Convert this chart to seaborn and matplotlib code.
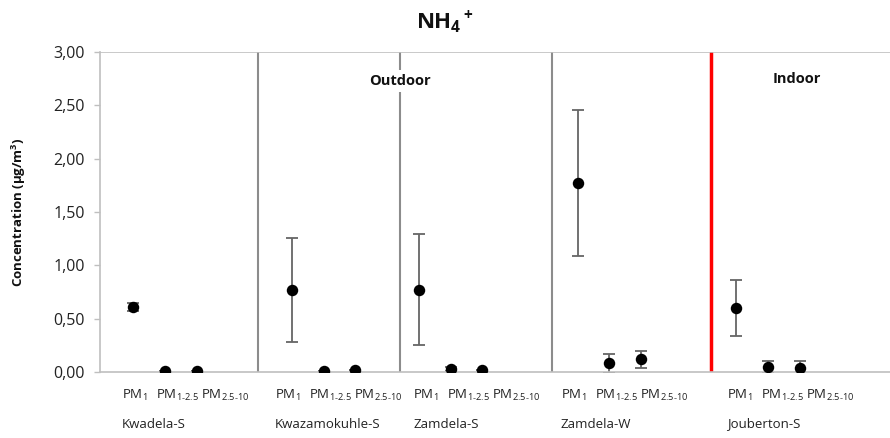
import matplotlib
matplotlib.use("Agg")
import matplotlib.pyplot as plt
import matplotlib.transforms as mtransforms
import numpy as np
import pandas as pd
import seaborn as sns

# Sites and size fractions
sites = ["Kwadela-S", "Kwazamokuhle-S", "Zamdela-S", "Zamdela-W", "Jouberton-S"]
fraction_labels = ["PM$_{1}$", "PM$_{1\u20102.5}$", "PM$_{2.5\u201010}$"]

# Mean NH4+ concentration (µg/m³) per site, ordered PM1, PM1-2.5, PM2.5-10
kwadela_s = [0.61, 0.005, 0.005]
kwazamokuhle_s = [0.77, 0.012, 0.018]
zamdela_s = [0.77, 0.025, 0.018]
zamdela_w = [1.77, 0.08, 0.12]
jouberton_s = [0.60, 0.047, 0.037]

# Standard deviations
kwadela_s_sd = [0.04, 0.0, 0.0]
kwazamokuhle_s_sd = [0.49, 0.0, 0.0]
zamdela_s_sd = [0.52, 0.02, 0.0]
zamdela_w_sd = [0.685, 0.09, 0.08]
jouberton_s_sd = [0.26, 0.055, 0.07]

means = [kwadela_s, kwazamokuhle_s, zamdela_s, zamdela_w, jouberton_s]
sds = [kwadela_s_sd, kwazamokuhle_s_sd, zamdela_s_sd, zamdela_w_sd, jouberton_s_sd]

# Layout: first slot of each site on the category axis, and separator lines
group_start = [1, 6, 10, 15, 20]
separators = [4.94, 9.41, 14.19]
indoor_separator = 19.19
site_label_x = [0.66, 5.47, 9.82, 14.47, 19.70]
fraction_offsets_px = [0, 34, 79]

rows = []
for s, site in enumerate(sites):
    for f in range(3):
        rows.append({"site": site, "fraction": fraction_labels[f],
                     "x": group_start[s] + f, "conc": means[s][f], "sd": sds[s][f]})
df = pd.DataFrame(rows)

sns.set_theme(style="white")
plt.rcParams["font.family"] = ["Open Sans", "DejaVu Sans"]
plt.rcParams["mathtext.default"] = "regular"

W, H = 890, 438
fig = plt.figure(figsize=(W / 100, H / 100), dpi=100)
ax = fig.add_axes([100 / W, (H - 372) / H, (W - 100) / W, 320 / H])

ax.errorbar(df["x"], df["conc"], yerr=df["sd"], fmt="none", ecolor="#666666",
            elinewidth=1.3, capsize=4, capthick=1.3, zorder=2)
sns.scatterplot(data=df, x="x", y="conc", ax=ax, color="black", s=68,
                edgecolor="black", linewidth=0, zorder=3, legend=False)

for xs in separators:
    ax.axvline(xs, color="#8c8c8c", lw=1.5, zorder=1)
ax.axvline(indoor_separator, color="#ff0000", lw=2.5, zorder=1)
ax.axhline(3.0, color="#c0c0c0", lw=1.2, zorder=1)

ax.set_xlim(-0.04, 24.84)
ax.set_ylim(0, 3.0)
yt = np.arange(0, 3.01, 0.5)
ax.set_yticks(yt)
ax.set_yticklabels([f"{v:.2f}".replace(".", ",") for v in yt],
                   fontsize=11.5, color="#222222")
ax.tick_params(axis="y", length=4, width=1, color="#bfbfbf", pad=7, left=True)

ax.set_xticks([])
ax.set_xlabel("")

for side in ["top", "right"]:
    ax.spines[side].set_visible(False)
for side in ["left", "bottom"]:
    ax.spines[side].set_color("#bfbfbf")
    ax.spines[side].set_linewidth(1.2)

ax.set_ylabel("Concentration (µg/m$^3$)", fontsize=9.5, fontweight="bold",
              color="#111111")
ax.yaxis.set_label_coords(-72 / 790, 0.5)

# Site names and size-fraction labels below the axis
trans = mtransforms.blended_transform_factory(ax.transData, ax.transAxes)
for lx, site in zip(site_label_x, sites):
    ax.text(lx, -0.1625, site, transform=trans, ha="left", va="center",
            fontsize=9.5, color="#222222")
    for off, lab in zip(fraction_offsets_px, fraction_labels):
        t = trans + mtransforms.ScaledTranslation(off / 100, 0, fig.dpi_scale_trans)
        ax.text(lx, -0.072, lab, transform=t, ha="left", va="center",
                fontsize=9.5, color="#222222")

ax.text(9.41, 2.73, "Outdoor", ha="center", va="center", fontsize=10.5,
        fontweight="bold", color="#111111",
        bbox=dict(facecolor="white", edgecolor="none", pad=3), zorder=4)
ax.text(21.9, 2.75, "Indoor", ha="center", va="center", fontsize=10.5,
        fontweight="bold", color="#111111", zorder=4)

fig.text(0.5, 1 - 22 / H, "NH$_4$$^+$", ha="center", va="center", fontsize=16,
         fontweight="bold", color="#111111")

fig.savefig("out.png", dpi=100, facecolor="white")
